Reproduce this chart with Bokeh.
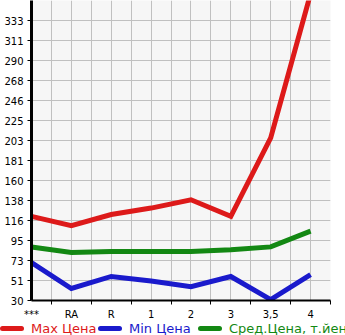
from bokeh.plotting import figure
from bokeh.models import FixedTicker, Range1d, LinearAxis, Grid, Div
from bokeh.layouts import column
from bokeh.embed import file_html
from bokeh.resources import INLINE

categories = ["***", "RA", "R", "1", "2", "3", "3,5", "4"]
max_price = [121, 111, 123, 130, 139, 121, 206, 362]
min_price = [71, 43, 56, 51, 45, 56, 31, 58]
avg_price = [88, 82, 83, 83, 83, 85, 88, 105]
y_tick_labels = ["30", "51", "73", "95", "116", "138", "160", "181", "203",
                 "225", "246", "268", "290", "311", "333"]
series_names = ["Max Цена", "Min Цена", "Сред.Цена, т.йен"]
series_colors = ["#dd1a1a", "#1a1acc", "#138813"]

y0 = 30.0
ystep = (333.0 - 30.0) / 14
y_ticks = [y0 + k * ystep for k in range(len(y_tick_labels))]
xs = list(range(len(categories)))

MAIN_H = 323
p = figure(width=345, height=MAIN_H, output_backend="svg", toolbar_location=None,
           x_range=Range1d(0, len(categories) - 0.5),
           y_range=Range1d(y0, y0 + 15 * ystep),
           min_border_left=31, min_border_right=15, min_border_top=0,
           min_border_bottom=23, background_fill_color="#f6f6f6",
           border_fill_color="white", outline_line_color=None)

p.xaxis.visible = False
p.yaxis.visible = False
xa = LinearAxis(ticker=FixedTicker(ticks=xs, minor_ticks=[i + 0.5 for i in xs]),
                major_label_overrides={i: c for i, c in enumerate(categories)},
                major_tick_out=0, major_tick_in=0, minor_tick_out=4, minor_tick_in=0,
                minor_tick_line_color="black", axis_line_color="black", axis_line_width=2,
                major_label_text_font="DejaVu Sans", major_label_text_font_size="10px",
                major_label_standoff=4, major_label_text_color="black")
ya = LinearAxis(ticker=FixedTicker(ticks=y_ticks),
                major_label_overrides={t: l for t, l in zip(y_ticks, y_tick_labels)},
                major_tick_out=4, major_tick_in=0, minor_tick_out=0, minor_tick_in=0,
                axis_line_color="black", axis_line_width=3,
                major_label_text_font="DejaVu Sans", major_label_text_font_size="10px",
                major_label_standoff=4, major_label_text_baseline="alphabetic",
                major_label_text_color="black")
p.add_layout(xa, "below")
p.add_layout(ya, "left")

p.xgrid.visible = False
p.ygrid.visible = False
p.add_layout(Grid(dimension=0, ticker=FixedTicker(ticks=[i * 0.5 for i in range(1, 16)]),
                  grid_line_color="#c0c0c0", grid_line_width=1))
p.add_layout(Grid(dimension=1, ticker=FixedTicker(ticks=y_ticks[1:]),
                  grid_line_color="#c0c0c0", grid_line_width=1))

for vals, col in zip([max_price, min_price, avg_price], series_colors):
    p.line(xs, vals, line_color=col, line_width=5, line_join="miter")

# legend strip as HTML
LEG_H = 335 - MAIN_H
leg_x0 = [0, 98, 198]
parts = []
for name, col, lx in zip(series_names, series_colors, leg_x0):
    parts.append(
        f'<span style="position:absolute;left:{lx}px;top:3px;width:24px;height:5px;'
        f'border-radius:3px;background:{col};"></span>'
        f'<span style="position:absolute;left:{lx + 31}px;top:0px;color:{col};'
        f'font-family:\'DejaVu Sans\';font-size:13px;line-height:12px;'
        f'white-space:nowrap;">{name}</span>')
html_leg = (f'<div style="position:relative;width:345px;height:{LEG_H}px;'
            f'overflow:hidden;">' + "".join(parts) + '</div>')
leg = Div(text=html_leg, width=345, height=LEG_H, margin=0,
          styles={"overflow": "hidden"})

open("out.html", "w").write(file_html(column(p, leg, spacing=0), INLINE))
